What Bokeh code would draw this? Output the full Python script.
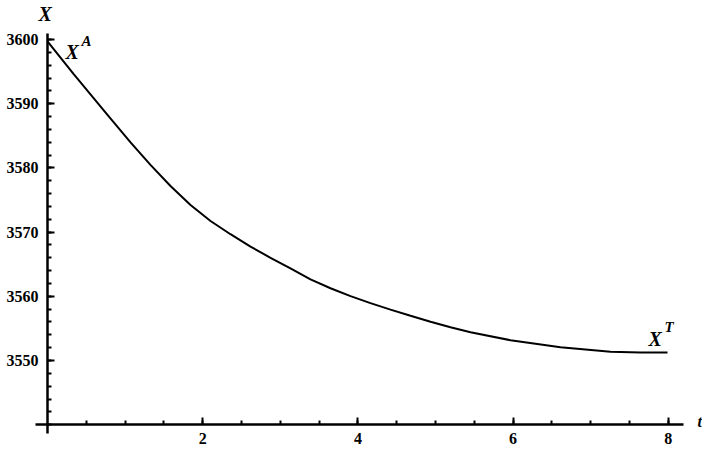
from bokeh.plotting import figure
from bokeh.models import Range1d, FixedTicker, Label, LinearAxis
from bokeh.embed import file_html
from bokeh.resources import INLINE

# Data
t_vals = [0.0, 0.335, 0.773, 1.070, 1.327, 1.585, 1.843, 2.101, 2.358, 2.616, 2.874,
          3.131, 3.389, 3.647, 3.905, 4.162, 4.420, 4.678, 4.936, 5.193, 5.451,
          5.966, 6.611, 7.255, 7.642, 7.990]
x_vals = [3599.70, 3594.63, 3588.27, 3583.97, 3580.48, 3577.18, 3574.22, 3571.73, 3569.67,
          3567.74, 3566.00, 3564.35, 3562.63, 3561.26, 3560.02, 3558.93, 3557.93, 3556.96,
          3556.03, 3555.19, 3554.41, 3553.16, 3552.07, 3551.37, 3551.25, 3551.25]
x_major_ticks = [2, 4, 6, 8]
x_minor_ticks = [0.5 * i for i in range(1, 17)]
y_major_ticks = [3550, 3560, 3570, 3580, 3590, 3600]
y_minor_ticks = [3540 + 2 * i for i in range(0, 31)]

# pixel mapping from reference: t=0 at x=47, 77.6 px/unit; X=3600 at y=39, 6.42 px/unit
W, H = 702, 450
PX0, SX = 47, 77.6
PY0, SY = 39, 6.42
x_start = (0 - PX0) / SX
x_end = (W - PX0) / SX
y_end = 3600 + (PY0 - 0) / SY
y_start = 3600 - (H - PY0) / SY

def tx(px):
    return (px - PX0) / SX

def vy(py):
    return 3600 - (py - PY0) / SY

p = figure(width=W, height=H, output_backend="svg", toolbar_location=None,
           x_range=Range1d(x_start, x_end), y_range=Range1d(y_start, y_end),
           x_axis_location=None, y_axis_location=None,
           min_border=0, min_border_left=0, min_border_right=0,
           min_border_top=0, min_border_bottom=0)
p.grid.visible = False
p.outline_line_color = None
p.background_fill_color = "white"

font = "Liberation Serif"

xa = LinearAxis(fixed_location=3540,
                ticker=FixedTicker(ticks=x_major_ticks, minor_ticks=x_minor_ticks),
                bounds=(tx(35), tx(683)))
ya = LinearAxis(fixed_location=0,
                ticker=FixedTicker(ticks=y_major_ticks, minor_ticks=y_minor_ticks),
                bounds=(vy(433), vy(33)))
for ax in (xa, ya):
    ax.axis_line_color = "black"
    ax.axis_line_width = 2.5
    ax.major_tick_in = 7
    ax.major_tick_out = 0
    ax.minor_tick_in = 4
    ax.minor_tick_out = 0
    ax.major_tick_line_width = 2
    ax.minor_tick_line_width = 2
    ax.major_tick_line_color = "black"
    ax.minor_tick_line_color = "black"
    ax.major_label_text_font = font
    ax.major_label_text_font_style = "bold"
    ax.major_label_text_font_size = "16px"
    ax.major_label_text_color = "black"
xa.major_label_standoff = 8
ya.major_label_standoff = 9
p.add_layout(xa, "below")
p.add_layout(ya, "left")

p.line(t_vals, x_vals, line_color="black", line_width=2)

def lab(px, py, text, size="20px", align="left"):
    p.add_layout(Label(x=tx(px), y=vy(py), text=text, text_font=font,
                       text_font_style="bold italic",
                       text_font_size=size, text_color="black", text_align=align,
                       text_baseline="alphabetic"))

lab(38, 13, "X", "20px")
lab(65, 51, "X", "20px")
lab(81, 40, "A", "15px")
lab(648, 338, "X", "20px")
lab(664, 326, "T", "15px")
lab(697, 421, "t", "16px")

open("out.html", "w").write(file_html(p, INLINE))
